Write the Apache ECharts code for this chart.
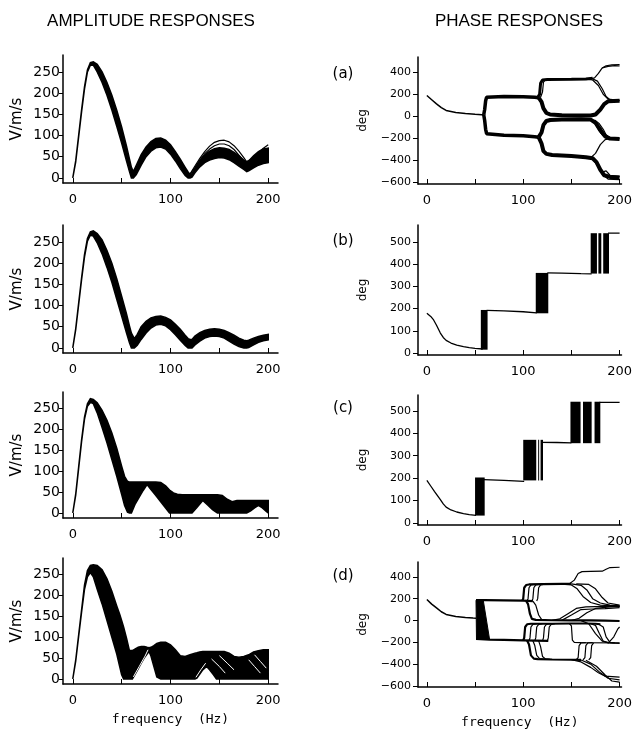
<!DOCTYPE html>
<html>
<head>
<meta charset="utf-8">
<title>Amplitude and phase responses</title>
<script src="https://cdn.jsdelivr.net/npm/echarts@6/dist/echarts.min.js"></script>
<style>
  html, body { margin: 0; padding: 0; background: #fff; }
  #chart { width: 635px; height: 730px; }
</style>
</head>
<body>
<div id="chart"></div>
<script>
  // ---- tick labels ----
  const freqTicks = [0, 50, 100, 150, 200];
  const freqLabels = [0, 100, 200];
  const ampTicks = [0, 50, 100, 150, 200, 250];
  const phaseTicksWide = [-600, -400, -200, 0, 200, 400];
  const phaseTicksStep = [0, 100, 200, 300, 400, 500];

  // ---- amplitude (a): envelope of the bundle ----
  const ampA_f  = [0, 3, 6, 9, 12, 15, 18, 21, 25, 30, 35, 40, 45, 50, 55, 58, 60, 62, 65, 70, 75, 80, 85, 90, 95, 100, 105, 110, 115, 118, 120, 122, 125, 130, 135, 140, 145, 150, 155, 160, 165, 170, 175, 178, 180, 185, 190, 195, 200];
  const ampA_hi = [0, 40, 100, 160, 215, 255, 272, 274, 268, 250, 225, 195, 160, 120, 75, 45, 25, 15, 30, 55, 73, 86, 93, 94, 89, 78, 62, 44, 25, 14, 8, 10, 22, 40, 54, 63, 69, 71, 70, 67, 60, 52, 42, 38, 40, 52, 62, 68, 70];
  const ampA_lo = [0, 38, 97, 156, 210, 250, 266, 266, 250, 225, 195, 160, 122, 82, 40, 15, 0, 0, 8, 30, 50, 63, 71, 73, 68, 56, 40, 22, 6, 0, 0, 2, 12, 26, 36, 42, 46, 48, 47, 43, 36, 28, 20, 15, 17, 24, 30, 34, 36];
  const ampA_thin1 = [[118, 2], [125, 28], [130, 46], [135, 62], [140, 75], [145, 84], [150, 88], [155, 89], [160, 85], [165, 76], [170, 63], [175, 48], [178, 38], [180, 36], [185, 48], [190, 60], [195, 70], [200, 78]];
  const ampA_thin2 = [[118, 2], [125, 25], [130, 42], [135, 57], [140, 68], [145, 76], [150, 80], [155, 80], [160, 76], [165, 67], [170, 54], [175, 40], [180, 30], [185, 40], [190, 52], [195, 62], [200, 68]];

  // ---- amplitude (b) ----
  const ampB_f  = [0, 3, 6, 9, 12, 15, 18, 21, 25, 30, 35, 40, 45, 50, 55, 58, 60, 63, 66, 70, 75, 80, 85, 90, 95, 100, 105, 110, 115, 118, 120, 122, 125, 130, 135, 140, 145, 150, 155, 160, 165, 170, 175, 178, 180, 185, 190, 195, 200];
  const ampB_hi = [0, 45, 105, 165, 220, 258, 274, 276, 270, 255, 230, 200, 163, 122, 80, 52, 35, 22, 32, 50, 63, 71, 74, 75, 72, 66, 56, 44, 30, 22, 20, 20, 28, 36, 41, 44, 45, 44, 41, 36, 30, 23, 18, 17, 18, 23, 27, 30, 32];
  const ampB_lo = [0, 43, 102, 161, 215, 252, 266, 264, 248, 222, 190, 155, 115, 75, 35, 12, 0, 0, 6, 20, 35, 47, 54, 56, 52, 43, 31, 18, 6, 0, 0, 0, 7, 16, 23, 27, 28, 27, 23, 16, 9, 3, 0, 0, 1, 7, 13, 17, 19];

  // ---- amplitude (c) ----
  const ampC_f  = [0, 3, 6, 9, 12, 15, 18, 21, 25, 30, 35, 40, 45, 50, 53, 56, 58, 60, 64, 68, 72, 76, 80, 85, 90, 95, 99, 103, 107, 112, 117, 122, 127, 133, 138, 143, 148, 153, 158, 163, 168, 173, 178, 182, 186, 190, 194, 198, 200];
  const ampC_hi = [0, 45, 110, 175, 230, 262, 274, 272, 264, 246, 222, 192, 155, 112, 88, 76, 74, 74, 74, 74, 74, 74, 74, 74, 73, 65, 55, 48, 45, 44, 44, 44, 44, 44, 44, 44, 44, 42, 33, 27, 30, 30, 30, 30, 30, 30, 30, 30, 30];
  const ampC_lo = [0, 43, 107, 171, 225, 256, 265, 262, 240, 205, 168, 128, 88, 45, 18, 2, 0, 0, 22, 38, 54, 68, 56, 42, 27, 12, 0, 0, 0, 0, 0, 0, 13, 30, 19, 8, 0, 0, 0, 0, 0, 0, 0, 5, 12, 18, 12, 4, 0];

  // ---- amplitude (d) ----
  const ampD_f  = [0, 3, 6, 9, 12, 15, 18, 21, 25, 30, 35, 40, 45, 48, 50, 52, 55, 58, 61, 64, 67, 70, 73, 76, 78, 80, 83, 86, 90, 95, 100, 105, 110, 115, 120, 125, 127, 130, 133, 137, 140, 144, 147, 150, 155, 160, 165, 170, 175, 180, 185, 190, 195, 200];
  const ampD_hi = [0, 45, 105, 165, 225, 260, 272, 274, 272, 262, 240, 210, 175, 155, 140, 125, 98, 68, 68, 72, 76, 78, 78, 76, 75, 76, 80, 85, 88, 88, 82, 70, 56, 54, 58, 62, 63, 65, 66, 66, 66, 66, 66, 66, 66, 62, 54, 52, 54, 58, 65, 68, 70, 70];
  const ampD_lo = [0, 43, 102, 160, 215, 245, 255, 245, 215, 180, 140, 100, 60, 30, 10, 0, 0, 0, 0, 12, 25, 38, 50, 60, 66, 55, 30, 5, 0, 0, 0, 0, 0, 0, 0, 0, 2, 12, 22, 30, 22, 10, 0, 0, 0, 0, 0, 0, 0, 0, 0, 0, 0, 0];
  const ampD_gaps = [
    [[62, 5], [68, 30], [74, 55], [77, 70]],
    [[126, 4], [131, 22], [136, 38]],
    [[142, 48], [150, 30], [156, 14]],
    [[150, 56], [158, 38], [165, 22]],
    [[180, 46], [186, 30], [192, 14]],
    [[186, 58], [192, 42], [198, 26]]
  ];

  // ---- phase (a) ----
  const phA_start = [[0, 188], [5, 150], [10, 112], [15, 78], [20, 52], [30, 33], [40, 24], [50, 17], [57, 13], [59, 12]];
  const phA_up    = [[59, 12], [60, 60], [61, 140], [62, 172], [64, 180], [80, 180], [100, 178], [112, 172], [116, 168]];
  const phA_down  = [[59, 12], [60, -40], [61, -120], [62, -160], [64, -170], [80, -175], [100, -180], [112, -188], [116, -192]];
  const phA_u330  = [[115, 170], [117, 200], [118, 300], [120, 330], [125, 335], [150, 337], [165, 340], [172, 345]];
  const phA_u330b = [[118, 172], [120, 220], [121, 310], [123, 332], [130, 335]];
  const phA_u0    = [[116, 168], [119, 130], [121, 70], [124, 30], [128, 15], [140, 8], [160, 5], [170, 5], [175, 15], [180, 60], [184, 110], [188, 135], [200, 140]];
  const phA_l0    = [[116, -192], [119, -150], [121, -80], [124, -45], [128, -35], [140, -30], [160, -28], [170, -32], [175, -60], [180, -130], [185, -185], [190, -205], [200, -210]];
  const phA_l380  = [[116, -192], [119, -250], [121, -320], [124, -345], [130, -355], [150, -365], [165, -375], [172, -385], [176, -420], [180, -490], [184, -540], [190, -555], [200, -560]];
  const phA_thin = [
    [[170, 340], [174, 350], [178, 390], [182, 440], [186, 460], [192, 468], [200, 470]],
    [[182, 440], [188, 455], [195, 462], [200, 458]],
    [[165, 338], [172, 330], [178, 280], [183, 200], [188, 155], [200, 145]],
    [[172, 340], [177, 320], [182, 250], [186, 180], [190, 150], [200, 142]],
    [[168, -30], [174, -50], [180, -100], [184, -160], [190, -200]],
    [[172, -40], [176, -90], [180, -150], [184, -190], [189, -200]],
    [[174, -35], [179, -70], [183, -120], [186, -170], [190, -200]],
    [[170, -380], [175, -340], [180, -260], [185, -215], [190, -205], [200, -205]],
    [[172, -390], [177, -450], [182, -530], [188, -575], [200, -580]],
    [[170, -385], [174, -400], [178, -470], [182, -510], [186, -500], [190, -540], [200, -550]]
  ];

  // ---- phase (b): decay, then jumps of 180 deg ----
  const phB_start = [[0, 179], [4, 165], [7, 149], [10, 125], [14, 90], [17, 70], [20, 57], [25, 45], [31, 36], [38, 29], [44, 24], [50, 21], [58, 18]];
  const phB_flat = [
    [[62, 192], [80, 190], [100, 186], [114, 181]],
    [[125, 361], [140, 360], [160, 358], [171, 357]],
    [[188, 540], [200, 540]]
  ];
  // [f from, f to, deg from, deg to]
  const phB_jumps = [[56, 63, 15, 194], [113, 126, 179, 361], [170, 176.5, 358, 540], [178, 181, 358, 540], [183, 189, 358, 540]];

  // ---- phase (c) ----
  const phC_start = [[0, 190], [4, 165], [8, 140], [14, 104], [17, 85], [20, 71], [25, 58], [31, 49], [38, 42], [44, 37], [51, 34]];
  const phC_flat = [
    [[59, 193], [80, 190], [101, 186]],
    [[119, 360], [135, 359], [150, 357]],
    [[179, 538], [200, 538]]
  ];
  const phC_jumps = [[50, 60, 33, 203], [100, 113.5, 190, 371], [115.5, 116.5, 190, 371], [118, 120.5, 190, 371], [149, 159.5, 356, 541], [162, 171, 356, 541], [174, 180, 356, 541]];

  // ---- phase (d) ----
  const phD_start = [[0, 192], [5, 150], [10, 116], [15, 80], [20, 55], [30, 36], [40, 28], [48, 22], [51, 20]];
  // [f top-left, f top-right, f bottom-left, f bottom-right, deg top, deg bottom]
  const phD_split = [[51, 58.5, 51.5, 65, 186, -170]];
  const phD_main = [
    [[51, 186], [60, 186], [80, 184], [100, 181], [110, 178]],
    [[51, -170], [65, -176], [80, -178], [100, -182], [126, -188]],
    [[99, 181], [100, 200], [101, 300], [103, 325], [106, 330], [120, 333], [140, 335], [150, 335]],
    [[103, 180], [105, 150], [107, 60], [109, 15], [113, 5], [130, 2], [150, 0], [170, 0], [185, -2], [200, -5]],
    [[100, -182], [101, -160], [102, -60], [104, -35], [108, -30], [130, -30], [150, -28], [165, -28], [175, -30], [180, -35]],
    [[104, -184], [106, -220], [108, -320], [111, -350], [115, -355], [130, -358], [150, -360], [160, -362]]
  ];
  const phD_thin = [
    [[104, 180], [105, 200], [106, 300], [108, 326], [111, 330]],
    [[109, 179], [110, 200], [111, 300], [113, 326], [116, 330]],
    [[114, 178], [115, 200], [116, 300], [118, 326], [121, 331]],
    [[110, 178], [113, 140], [116, 50], [119, 10], [124, 3]],
    [[148, 336], [153, 370], [157, 430], [161, 448], [170, 450], [182, 452], [186, 470], [190, 485], [200, 488]],
    [[140, 334], [150, 325], [156, 290], [162, 220], [170, 165], [180, 140], [200, 132]],
    [[150, 335], [160, 322], [166, 280], [172, 200], [180, 160], [190, 140], [200, 135]],
    [[155, 335], [168, 330], [175, 290], [182, 210], [188, 160], [200, 140]],
    [[130, 2], [138, 15], [146, 60], [155, 110], [165, 125], [185, 130], [200, 130]],
    [[150, 0], [158, 20], [166, 70], [175, 110], [190, 125], [200, 128]],
    [[140, 1], [150, 50], [160, 100], [172, 105], [185, 108], [200, 118]],
    [[160, -2], [168, -30], [175, -120], [182, -190], [190, -205], [200, -210]],
    [[106, -183], [107, -160], [108, -60], [110, -35], [114, -30]],
    [[112, -185], [113, -160], [114, -60], [116, -35], [120, -30]],
    [[120, -187], [121, -160], [122, -60], [124, -35], [128, -30]],
    [[125, -188], [126, -160], [127, -60], [129, -35], [133, -30]],
    [[148, -30], [150, -50], [151, -180], [153, -200], [160, -203], [200, -205]],
    [[170, -30], [175, -45], [179, -120], [183, -190], [188, -205]],
    [[178, -32], [183, -60], [186, -150], [190, -200], [195, -205]],
    [[188, -210], [194, -150], [198, -80], [200, -60]],
    [[110, -186], [112, -230], [114, -320], [117, -350], [122, -356]],
    [[116, -187], [118, -240], [120, -330], [123, -352], [128, -357]],
    [[155, -360], [157, -340], [158, -230], [160, -205], [165, -203]],
    [[162, -362], [164, -340], [165, -230], [167, -205], [172, -204]],
    [[168, -362], [170, -340], [171, -230], [173, -205]],
    [[150, -360], [160, -380], [170, -430], [178, -480], [185, -510], [200, -520]],
    [[160, -362], [170, -400], [180, -480], [188, -530], [200, -545]],
    [[165, -365], [176, -420], [185, -500], [192, -555], [200, -565]]
  ];

  const FONT = 'DejaVu Sans';
  const fmtMinus = v => (v < 0 ? '\u2212' + Math.abs(v) : String(v));

  // grids: 0-3 amplitude rows, 4-7 phase rows
  const ampTops = [55, 225, 392, 558];
  const ampHeights = [128, 128, 126, 126];
  const phTops = [57, 225, 395, 562];
  const phHeights = [127, 130, 130, 126];
  const phRanges = [[-620, 540], [-9, 577], [-9, 571], [-610, 536]];

  const grids = [];
  const xAxes = [];
  const yAxes = [];

  function xAxisFor(gi, min, max, last) {
    return {
      gridIndex: gi, type: 'value', min: min, max: max,
      axisLine: { show: true, onZero: false, lineStyle: { color: '#000', width: 1.5 } },
      axisTick: { show: true, inside: true, length: 5, customValues: freqTicks, lineStyle: { color: '#000', width: 1 } },
      axisLabel: { customValues: freqLabels, margin: 10, color: '#000', fontSize: 13, fontFamily: FONT },
      splitLine: { show: false },
      name: last ? 'frequency  (Hz)' : '',
      nameLocation: 'middle', nameGap: 29,
      nameTextStyle: { color: '#000', fontSize: 13, fontFamily: 'DejaVu Sans Mono' }
    };
  }

  for (let i = 0; i < 4; i++) {
    grids.push({ left: 63, top: ampTops[i], width: 215, height: ampHeights[i] });
    xAxes.push(xAxisFor(i, -10, 210, i === 3));
    yAxes.push({
      gridIndex: i, type: 'value', min: -12, max: 290,
      axisLine: { show: true, onZero: false, lineStyle: { color: '#000', width: 1.5 } },
      axisTick: { show: true, inside: false, length: 4, customValues: ampTicks, lineStyle: { color: '#000', width: 1 } },
      axisLabel: { customValues: ampTicks, margin: 3, color: '#000', fontSize: 14, fontFamily: FONT },
      splitLine: { show: false },
      name: 'V/m/s', nameLocation: 'middle', nameGap: 38,
      nameTextStyle: { color: '#000', fontSize: 15, fontFamily: FONT }
    });
  }
  for (let i = 0; i < 4; i++) {
    const gi = i + 4;
    const wide = (i === 0 || i === 3);
    grids.push({ left: 418, top: phTops[i], width: 206, height: phHeights[i] });
    xAxes.push(xAxisFor(gi, -9.2, 202, i === 3));
    yAxes.push({
      gridIndex: gi, type: 'value', min: phRanges[i][0], max: phRanges[i][1],
      axisLine: { show: true, onZero: false, lineStyle: { color: '#000', width: 1.5 } },
      axisTick: { show: true, inside: false, length: 5, customValues: wide ? phaseTicksWide : phaseTicksStep, lineStyle: { color: '#000', width: 1 } },
      axisLabel: { customValues: wide ? phaseTicksWide : phaseTicksStep, margin: 7, color: '#000', fontSize: 11, fontFamily: FONT, formatter: fmtMinus },
      splitLine: { show: false },
      name: 'deg', nameLocation: 'middle', nameGap: 49,
      nameTextStyle: { color: '#000', fontSize: 12, fontFamily: FONT }
    });
  }

  const series = [];

  function addLine(gi, data, width, color) {
    series.push({
      type: 'line', xAxisIndex: gi, yAxisIndex: gi, data: data,
      symbol: 'none', silent: true, z: color === '#fff' ? 4 : 3,
      lineStyle: { color: color || '#000', width: width }
    });
  }

  // filled envelope between lo and hi
  function addBand(gi, f, lo, hi) {
    const rows = f.map((x, k) => [x, lo[k], hi[k]]);
    series.push({
      type: 'custom', xAxisIndex: gi, yAxisIndex: gi, silent: true, z: 2,
      data: rows,
      renderItem: function (params, api) {
        if (params.dataIndex !== 0) return null;
        const pts = [];
        rows.forEach(r => pts.push(api.coord([r[0], r[2]])));
        for (let k = rows.length - 1; k >= 0; k--) pts.push(api.coord([rows[k][0], rows[k][1]]));
        return { type: 'polygon', shape: { points: pts }, style: { fill: '#000', stroke: '#000', lineWidth: 1.5 } };
      }
    });
  }

  // vertical black blocks where the jumps pile up
  function addBlocks(gi, blocks) {
    series.push({
      type: 'custom', xAxisIndex: gi, yAxisIndex: gi, silent: true, z: 2,
      data: blocks,
      encode: { x: [0, 1], y: [2, 3] },
      renderItem: function (params, api) {
        const a = api.coord([api.value(0), api.value(3)]);
        const b = api.coord([api.value(1), api.value(2)]);
        return { type: 'rect', shape: { x: a[0], y: a[1], width: b[0] - a[0], height: b[1] - a[1] }, style: { fill: '#000' } };
      }
    });
  }

  function addTrapezoid(gi, items) {
    series.push({
      type: 'custom', xAxisIndex: gi, yAxisIndex: gi, silent: true, z: 2,
      data: items,
      encode: { x: [0, 1, 2, 3], y: [4, 5] },
      renderItem: function (params, api) {
        const p = [
          api.coord([api.value(0), api.value(4)]),
          api.coord([api.value(1), api.value(4)]),
          api.coord([api.value(3), api.value(5)]),
          api.coord([api.value(2), api.value(5)])
        ];
        return { type: 'polygon', shape: { points: p }, style: { fill: '#000', stroke: '#000', lineWidth: 1 } };
      }
    });
  }

  // amplitude panels
  addBand(0, ampA_f, ampA_lo, ampA_hi);
  addLine(0, ampA_thin1, 1.2);
  addLine(0, ampA_thin2, 1.2);
  addBand(1, ampB_f, ampB_lo, ampB_hi);
  addBand(2, ampC_f, ampC_lo, ampC_hi);
  addBand(3, ampD_f, ampD_lo, ampD_hi);
  ampD_gaps.forEach(d => addLine(3, d, 1, '#fff'));

  // phase (a)
  addLine(4, phA_start, 1.5);
  addLine(4, phA_up, 3.5);
  addLine(4, phA_down, 3.5);
  addLine(4, phA_u330, 3);
  addLine(4, phA_u330b, 1.2);
  addLine(4, phA_u0, 4);
  addLine(4, phA_l0, 4);
  addLine(4, phA_l380, 4);
  phA_thin.forEach(d => addLine(4, d, 1.2));

  // phase (b)
  addLine(5, phB_start, 1.3);
  phB_flat.forEach(d => addLine(5, d, 1.3));
  addBlocks(5, phB_jumps);

  // phase (c)
  addLine(6, phC_start, 1.3);
  phC_flat.forEach(d => addLine(6, d, 1.3));
  addBlocks(6, phC_jumps);

  // phase (d)
  addLine(7, phD_start, 1.5);
  addTrapezoid(7, phD_split);
  phD_main.forEach(d => addLine(7, d, 2.2));
  phD_thin.forEach(d => addLine(7, d, 1.2));

  const rowLabels = ['(a)', '(b)', '(c)', '(d)'];
  const rowLabelY = [74, 241, 408, 576];
  const graphic = [
    { type: 'text', x: 151, y: 21, style: { text: 'AMPLITUDE RESPONSES', font: '17px "Liberation Sans"', fill: '#000', textAlign: 'center', textVerticalAlign: 'middle' } },
    { type: 'text', x: 519, y: 21, style: { text: 'PHASE RESPONSES', font: '17px "Liberation Sans"', fill: '#000', textAlign: 'center', textVerticalAlign: 'middle' } }
  ];
  rowLabels.forEach((t, i) => graphic.push({
    type: 'text', x: 343, y: rowLabelY[i],
    style: { text: t, font: '15px "DejaVu Sans"', fill: '#000', textAlign: 'center', textVerticalAlign: 'middle' }
  }));

  const chart = echarts.init(document.getElementById('chart'));
  chart.setOption({
    animation: false,
    backgroundColor: '#fff',
    grid: grids,
    xAxis: xAxes,
    yAxis: yAxes,
    graphic: graphic,
    series: series
  });
  window.addEventListener('resize', function () { chart.resize(); });
</script>
</body>
</html>
